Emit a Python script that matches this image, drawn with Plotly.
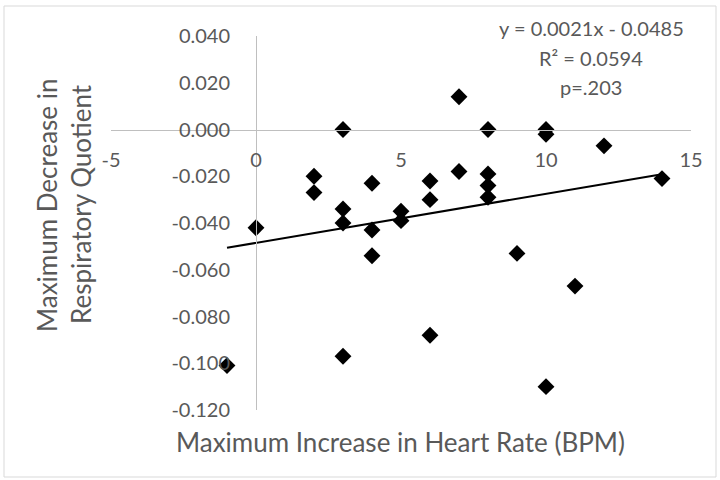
import plotly.graph_objects as go

# Data
heart_rate_increase = [-1, 0, 2, 2, 3, 3, 3, 3, 4, 4, 4, 5, 5, 6, 6, 6, 7, 7,
                       8, 8, 8, 8, 9, 10, 10, 10, 11, 12, 14]
rq_decrease = [-0.101, -0.042, -0.020, -0.027, 0.000, -0.034, -0.040, -0.097,
               -0.023, -0.043, -0.054, -0.035, -0.039, -0.022, -0.030, -0.088,
               0.014, -0.018, 0.000, -0.019, -0.024, -0.029, -0.053, 0.000,
               -0.002, -0.110, -0.067, -0.007, -0.021]

trend_slope = 0.0021
trend_intercept = -0.0485
trend_labels = ["y = 0.0021x - 0.0485", "R² = 0.0594", "p=.203"]

x_ticks = [-5, 0, 5, 10, 15]
y_ticks = [0.04, 0.02, 0.0, -0.02, -0.04, -0.06, -0.08, -0.10, -0.12]
y_ticktext = ["0.040", "0.020", "0.000", "-0.020", "-0.040", "-0.060",
              "-0.080", "-0.100", "-0.120"]

W, H = 720, 480
L, R, T, B = 111, 29, 36, 70
PW, PH = W - L - R, H - T - B


def px_x(p):
    return (p - L) / PW


def px_y(p):
    return (H - B - p) / PH


FONT = "Lato"
GREY = "#595959"
AXIS = "#bfbfbf"

trend_x = [min(heart_rate_increase), max(heart_rate_increase)]
trend_y = [trend_slope * v + trend_intercept for v in trend_x]

fig = go.Figure()
fig.add_trace(go.Scatter(
    x=trend_x, y=trend_y, mode="lines",
    line=dict(color="black", width=2), hoverinfo="skip", showlegend=False))
fig.add_trace(go.Scatter(
    x=heart_rate_increase, y=rq_decrease, mode="markers",
    marker=dict(symbol="diamond", size=13, color="black"),
    showlegend=False))

fig.update_layout(
    width=W, height=H,
    margin=dict(l=L, r=R, t=T, b=B, pad=0),
    paper_bgcolor="white", plot_bgcolor="white",
    font=dict(family=FONT, color=GREY, size=20),
    xaxis=dict(
        range=[-5, 15], tickvals=x_ticks, ticktext=[str(v) for v in x_ticks],
        anchor="free", position=0.75,
        showline=True, linecolor=AXIS, linewidth=1,
        showgrid=False, zeroline=False,
        ticks="", ticklabelstandoff=12,
        tickfont=dict(family=FONT, size=20, color=GREY),
    ),
    yaxis=dict(
        range=[-0.12, 0.04], tickvals=y_ticks, ticktext=y_ticktext,
        anchor="free", position=0.25,
        showline=True, linecolor=AXIS, linewidth=1,
        showgrid=False, zeroline=False,
        ticks="", ticklabelstandoff=22,
        tickfont=dict(family=FONT, size=20, color=GREY),
    ),
    shapes=[dict(
        type="rect", xref="paper", yref="paper",
        x0=px_x(4), x1=px_x(716), y0=px_y(477), y1=px_y(6),
        line=dict(color="#d9d9d9", width=1), fillcolor="rgba(0,0,0,0)",
        layer="below")],
)

annotations = [
    dict(text="Maximum Increase in Heart Rate (BPM)", x=px_x(400), y=px_y(442),
         font=dict(size=26)),
    dict(text="Maximum Decrease in", x=px_x(47), y=px_y(205), textangle=-90,
         font=dict(size=26)),
    dict(text="Respiratory Quotient", x=px_x(81), y=px_y(204), textangle=-90,
         font=dict(size=26)),
]
for i, (txt, yy) in enumerate(zip(trend_labels, [28, 58, 87])):
    annotations.append(dict(text=txt, x=px_x(591), y=px_y(yy),
                            font=dict(size=20)))
for a in annotations:
    a.update(xref="paper", yref="paper", showarrow=False,
             xanchor="center", yanchor="middle")
fig.update_layout(annotations=annotations)

fig.write_html("out.html")
